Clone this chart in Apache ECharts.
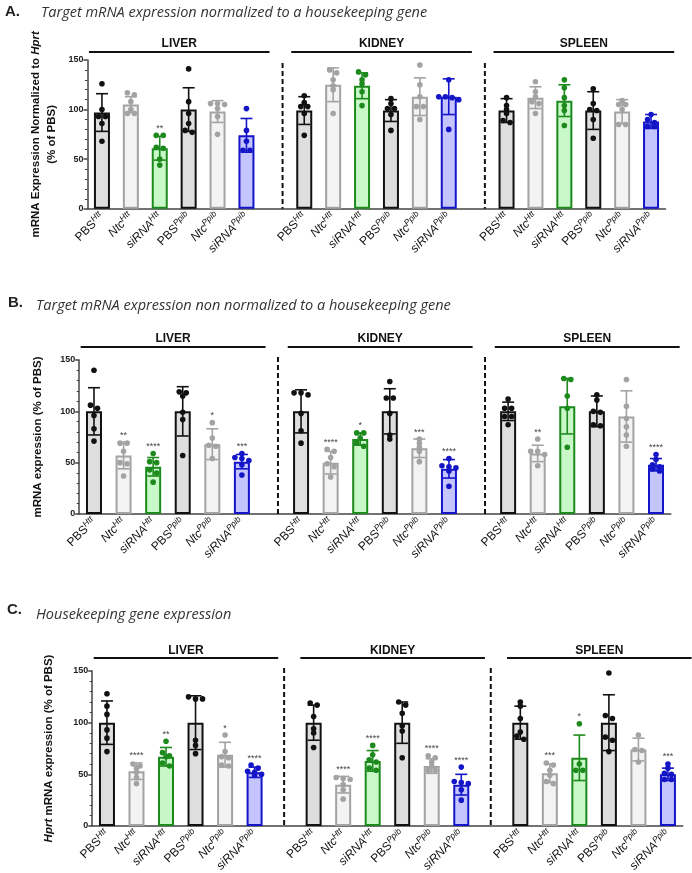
<!DOCTYPE html>
<html><head><meta charset="utf-8">
<script src="https://cdn.jsdelivr.net/npm/echarts@6/dist/echarts.min.js"></script>
<style>html,body{margin:0;padding:0;background:#fff}#c{width:692px;height:873px}</style>
</head><body><div id="c"></div>
<script>
// ---------- shared categories ----------
const tissues = ['LIVER', 'KIDNEY', 'SPLEEN'];
const labelBase = ['PBS', 'Ntc', 'siRNA', 'PBS', 'Ntc', 'siRNA'];
const labelSup = ['Htt', 'Htt', 'Htt', 'Ppib', 'Ppib', 'Ppib'];
const yTicks = [0, 50, 100, 150];

// ---------- Panel A: normalized to Hprt ----------
const meanA = [97, 105, 61, 100, 98, 74,  99, 125, 124, 99, 113, 113,  99, 112, 109, 99, 98, 88];
const sdA   = [19, 8, 12, 22, 11, 17,  14, 17, 13, 11, 19, 18,  12, 11, 16, 19, 12, 7];
const ptsA = [
  [126,100,93,93,86,68],[117,115,108,100,96,96],[74,74,62,61,50,44],[141,108,96,86,79,77],[106,106,105,101,93,75],[101,79,68,59,59],
  [114,107,103,103,96,74],[140,137,130,124,120,96],[138,135,130,126,118,104],[111,106,101,101,95,79],[145,125,113,103,103,90],[130,113,113,112,110,80],
  [112,104,100,96,89,87],[128,118,113,108,106,96],[130,122,112,104,99,84],[121,106,100,99,90,71],[109,105,105,100,85,85],[95,90,87,83,83]
];
const starsA = ['','','**','','','', '','','','','','', '','','','','',''];

// ---------- Panel B: non normalized ----------
const meanB = [100, 57, 46, 100, 68, 51,  100, 50, 73, 100, 64, 44,  100, 59, 105, 100, 95, 48];
const sdB   = [23, 13, 9, 24, 15, 7,  21, 11, 6, 22, 9, 9,  9, 8, 27, 15, 25, 6];
const ptsB = [
  [140,106,103,96,83,71],[69,69,61,50,49,37],[59,51,50,43,40,31],[119,118,115,99,92,57],[89,74,67,66,54],[59,55,54,52,48,38],
  [118,118,116,98,81,69],[63,61,55,49,46,36],[79,79,74,69,66],[129,113,113,98,77,73],[73,69,65,61,51],[54,47,46,45,42,27],
  [112,103,103,95,95,87],[73,61,61,58,47],[132,131,115,103,65],[116,111,100,99,87,86],[131,105,93,85,77,66],[58,53,48,46,44,42]
];
const starsB = ['','**','****','','*','***', '','****','*','','***','****', '','**','','','','****'];

// ---------- Panel C: housekeeping gene ----------
const meanC = [100, 53, 67, 100, 69, 52,  100, 40, 63, 100, 58, 40,  100, 51, 66, 100, 74, 50];
const sdC   = [21, 8, 9, 26, 12, 5,  17, 8, 10, 20, 7, 10,  16, 9, 22, 27, 11, 6];
const ptsC = [
  [128,116,108,93,85,72],[60,58,56,52,47,41],[82,71,68,67,61,58],[125,123,123,83,78,70],[88,72,67,66,59,58],[59,56,53,52,50,49],
  [119,117,106,94,90,76],[47,46,45,40,35,26],[78,69,64,62,56,54],[120,117,109,97,92,66],[68,66,62,58,54,54],[57,43,42,41,35,25],
  [120,116,104,91,87,84],[61,59,54,49,43,41],[99,60,54,54],[148,107,104,86,83,72],[88,74,73,62],[60,56,51,50,45,45]
];
const starsC = ['','****','**','','*','****', '','****','****','','****','****', '','***','*','','','***'];

// ---------- styles ----------
const fills   = ['#dedede', '#f3f3f3', '#c8f8c8', '#dedede', '#f3f3f3', '#c4c4ff'];
const borders = ['#111111', '#a3a3a3', '#1c8a1c', '#111111', '#a3a3a3', '#1515c8'];
const FONT = 'Liberation Sans, Arial, sans-serif';

const panels = [
  {mean: meanA, sd: sdA, pts: ptsA, stars: starsA,
   yName: '{n|mRNA Expression Normalized to }{ni|Hprt}\n{n|(% of PBS)}',
   grid: {left: 87.5, top: 60, width: 578, height: 148.7}, nameGap: 28, sepOff: 0.25, sepTop: 147, hdrLine: 8, hdrText: 16},
  {mean: meanB, sd: sdB, pts: ptsB, stars: starsB,
   yName: '{n|mRNA expression (% of PBS)}',
   grid: {left: 79.2, top: 360, width: 591.6, height: 154}, nameGap: 33, sepOff: 0.22, sepTop: 153, hdrLine: 13, hdrText: 21},
  {mean: meanC, sd: sdC, pts: ptsC, stars: starsC,
   yName: '{ni|Hprt}{n| mRNA expression (% of PBS)}',
   grid: {left: 92.2, top: 671, width: 590.5, height: 155}, nameGap: 35, sepOff: 0, sepTop: 153, hdrLine: 13, hdrText: 20}
];

const catOf = k => Math.floor(k / 6) * 7 + (k % 6);
const xData = [];
for (let i = 0; i < 20; i++) xData.push(i % 7 === 6 ? '' : labelBase[i % 7] + labelSup[i % 7]);

const grids = [], xAxes = [], yAxes = [], series = [];
panels.forEach((p, pi) => {
  grids.push(Object.assign({outerBoundsMode: 'none', containLabel: false}, p.grid));
  xAxes.push({
    type: 'category', gridIndex: pi, data: xData,
    axisLine: {lineStyle: {color: '#444', width: 1.5}},
    axisTick: {alignWithLabel: true, interval: 0, length: 4, lineStyle: {color: '#444', width: 1.5}},
    axisLabel: {
      interval: 0, rotate: 45, margin: 6,
      formatter: (v, i) => {
        const j = i % 7;
        if (j === 6) return '';
        const st = labelBase[j] === 'PBS' ? 'b' : 'bi';
        return '{' + st + '|' + labelBase[j] + '}{s|' + labelSup[j] + '}';
      },
      rich: {
        b: {fontSize: 12, fontFamily: FONT, color: '#111', lineHeight: 15},
        bi: {fontSize: 12, fontFamily: FONT, color: '#111', fontStyle: 'italic', lineHeight: 15},
        s: {fontSize: 8.5, fontFamily: FONT, color: '#111', fontStyle: 'italic', verticalAlign: 'top', lineHeight: 9}
      }
    },
    splitLine: {show: false}
  });
  yAxes.push({
    type: 'value', gridIndex: pi, min: yTicks[0], max: yTicks[yTicks.length - 1], interval: 50,
    axisLine: {show: true, lineStyle: {color: '#444', width: 1.5}},
    axisTick: {show: true, length: 4, lineStyle: {color: '#444', width: 1.5}},
    minorTick: {show: true, splitNumber: 5, length: 2.5, lineStyle: {color: '#444', width: 1}},
    splitLine: {show: false},
    axisLabel: {fontSize: 9, fontWeight: 'bold', fontFamily: FONT, color: '#222', margin: 4},
    name: p.yName, nameLocation: 'middle', nameRotate: 90, nameGap: p.nameGap,
    nameTextStyle: {
      rich: {
        n: {fontSize: 11.5, fontWeight: 'bold', fontFamily: FONT, color: '#111', lineHeight: 16},
        ni: {fontSize: 11.5, fontWeight: 'bold', fontStyle: 'italic', fontFamily: FONT, color: '#111', lineHeight: 16}
      }
    }
  });

  // bars
  const barData = [];
  for (let i = 0; i < 20; i++) {
    const j = i % 7;
    if (j === 6) { barData.push('-'); continue; }
    const k = Math.floor(i / 7) * 6 + j;
    barData.push({value: p.mean[k], itemStyle: {color: fills[j], borderColor: borders[j], borderWidth: 2}});
  }
  series.push({type: 'bar', xAxisIndex: pi, yAxisIndex: pi, data: barData, barWidth: 16, silent: true, z: 2});

  // error bars, points, stars
  series.push({
    type: 'custom', xAxisIndex: pi, yAxisIndex: pi, z: 5, silent: true, clip: false,
    data: p.mean.map((m, k) => [catOf(k), m, p.sd[k], k]),
    renderItem: (params, api) => {
      const c = api.value(0), m = api.value(1), sd = api.value(2), k = api.value(3);
      const j = k % 6, col = borders[j];
      const cx = api.coord([c, 0])[0];
      const yT = api.coord([c, m + sd])[1], yB = api.coord([c, m - sd])[1];
      const cap = 6, lw = 1.6;
      const ch = [
        {type: 'line', shape: {x1: cx, y1: yT, x2: cx, y2: yB}, style: {stroke: col, lineWidth: lw}},
        {type: 'line', shape: {x1: cx - cap, y1: yT, x2: cx + cap, y2: yT}, style: {stroke: col, lineWidth: lw}},
        {type: 'line', shape: {x1: cx - cap, y1: yB, x2: cx + cap, y2: yB}, style: {stroke: col, lineWidth: lw}}
      ];
      // points, spread horizontally when they would overlap
      const ys = p.pts[k].map(v => api.coord([c, v])[1]).sort((a, b) => a - b);
      const rows = [];
      ys.forEach(y => {
        const r = rows[rows.length - 1];
        if (r && Math.abs(y - r[0]) < 3.6) r.push(y); else rows.push([y]);
      });
      rows.forEach(r => {
        const n = r.length, step = Math.min(7, 20 / Math.max(1, n - 1));
        r.forEach((y, q) => {
          ch.push({type: 'circle', shape: {cx: cx + (q - (n - 1) / 2) * step, cy: y, r: 2.8}, style: {fill: col}});
        });
      });
      if (p.stars[k]) {
        const top = Math.max(m + sd, Math.max.apply(null, p.pts[k]));
        const yy = api.coord([c, top])[1] - 7;
        ch.push({type: 'text', style: {text: p.stars[k], x: cx, y: yy, align: 'center', verticalAlign: 'middle',
          fontSize: 9, fontFamily: FONT, fill: '#444'}});
      }
      return {type: 'group', children: ch};
    }
  });

  // group headers and dashed separators
  series.push({
    type: 'custom', xAxisIndex: pi, yAxisIndex: pi, z: 6, silent: true, clip: false,
    data: tissues.map((t, g) => [g * 7, g * 7 + 5, g]),
    renderItem: (params, api) => {
      const a = api.value(0), b = api.value(1), g = api.value(2);
      const band = api.size([1, 0])[0];
      const x1 = api.coord([a, 0])[0] - 0.45 * band, x2 = api.coord([b, 0])[0] + 0.8 * band;
      const yTop = api.coord([a, 150])[1];
      const ch = [
        {type: 'line', shape: {x1: x1, y1: yTop - p.hdrLine, x2: x2, y2: yTop - p.hdrLine}, style: {stroke: '#111', lineWidth: 2}},
        {type: 'text', style: {text: tissues[g], x: (x1 + x2) / 2, y: yTop - p.hdrText, align: 'center', verticalAlign: 'middle',
          fontSize: 12, fontWeight: 'bold', fontFamily: FONT, fill: '#111'}}
      ];
      if (g > 0) {
        const sx = api.coord([a - 1, 0])[0] + p.sepOff * band;
        ch.push({type: 'line', shape: {x1: sx, y1: api.coord([a, p.sepTop])[1], x2: sx, y2: api.coord([a, 0])[1]},
          style: {stroke: '#111', lineWidth: 2, lineDash: [5, 3]}});
      }
      return {type: 'group', children: ch};
    }
  });
});

const titleBold = {fontFamily: FONT, fontWeight: 'bold', fontSize: 15, color: '#222'};
const titleIt = {fontFamily: 'Open Sans, sans-serif', fontStyle: 'italic', fontWeight: 'normal', fontSize: 14.5, color: '#333'};
const option = {
  animation: false,
  backgroundColor: '#fff',
  title: [
    {text: 'A.', left: 5, top: 4, padding: 0, textStyle: titleBold},
    {text: 'Target mRNA expression normalized to a housekeeping gene', left: 41, top: 5, padding: 0, textStyle: titleIt},
    {text: 'B.', left: 8, top: 295, padding: 0, textStyle: titleBold},
    {text: 'Target mRNA expression non normalized to a housekeeping gene', left: 36, top: 298, padding: 0, textStyle: titleIt},
    {text: 'C.', left: 7, top: 602, padding: 0, textStyle: titleBold},
    {text: 'Housekeeping gene expression', left: 36, top: 607, padding: 0, textStyle: titleIt}
  ],
  grid: grids, xAxis: xAxes, yAxis: yAxes, series: series
};
const chart = echarts.init(document.getElementById('c'), null, {renderer: 'canvas'});
chart.setOption(option);
</script></body></html>
